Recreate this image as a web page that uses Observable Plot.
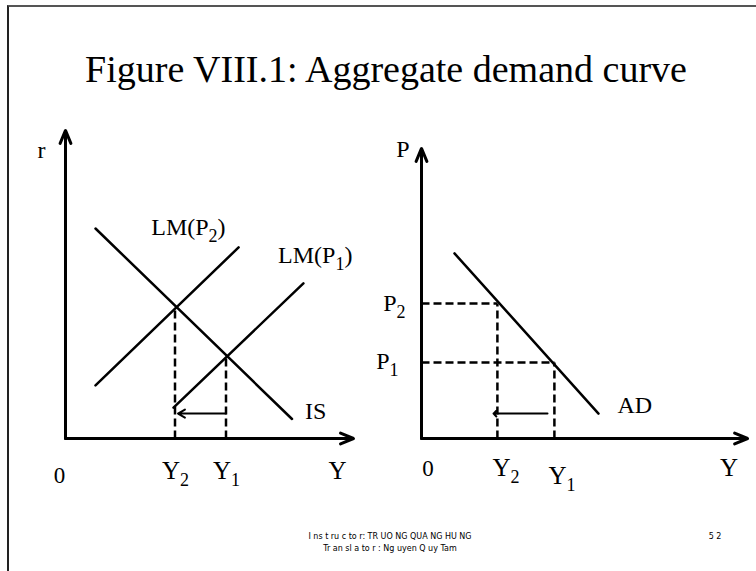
<!DOCTYPE html>
<html><head><meta charset="utf-8">
<script src="https://cdn.jsdelivr.net/npm/d3@7"></script>
<script src="https://cdn.jsdelivr.net/npm/@observablehq/plot@0.6"></script>
<style>
body{margin:0;background:#fff;}
#page{position:relative;width:756px;height:571px;overflow:hidden;background:#fff;}
#frame{position:absolute;left:7px;top:5px;width:760px;height:580px;border-top:2px solid #555;border-left:2.5px solid #222;z-index:5;pointer-events:none;}
#title{position:absolute;left:0;top:50px;width:772px;text-align:center;font-family:"Liberation Serif",serif;font-size:38px;line-height:38px;color:#000;white-space:nowrap;}
.panel{position:absolute;top:110px;}
#left{left:0;}
#right{left:380px;}
#footer{position:absolute;left:190px;top:531px;width:400px;text-align:center;font-family:"DejaVu Sans",sans-serif;font-size:8px;line-height:12px;color:#000;white-space:pre;}
#pageno{position:absolute;left:695px;top:531px;width:40px;text-align:center;font-family:"DejaVu Sans",sans-serif;font-size:8px;line-height:12px;color:#000;white-space:pre;}
</style></head><body>
<div id="page">
  <div id="frame"></div>
  <div id="title">Figure VIII.1: Aggregate demand curve</div>
  <div id="left" class="panel"></div>
  <div id="right" class="panel"></div>
  <div id="footer">I ns t ru c to r: TR UO NG QUA NG HU NG
Tr an sl a to r : Ng uyen Q uy Tam</div>
  <div id="pageno">5 2</div>
</div>
<script>
// ---------- data (left panel: IS-LM, r vs Y) ----------
const isCurve   = [{Y: 1.00, r: 7.00}, {Y: 7.55, r: 0.65}];
const lmP2Curve = [{Y: 1.00, r: 1.77}, {Y: 5.77, r: 6.37}];
const lmP1Curve = [{Y: 3.60, r: 1.03}, {Y: 7.93, r: 5.17}];
const leftEquilibria = [{Y: 3.65, r: 4.40}, {Y: 5.35, r: 2.77}]; // (Y2, r2), (Y1, r1)
const leftShift = {from: 5.35, to: 3.75, level: 0.83};
const leftAxisEnd = {Y: 9.6, r: 10.27};
const leftAxisNames = ["r", "Y"];
const leftTickLabels = ["0", "Y_2", "Y_1"];
const leftCurveLabels = ["LM(P_2)", "LM(P_1)", "IS"];

// ---------- data (right panel: AD, P vs Y) ----------
const adCurve = [{Y: 1.10, P: 6.17}, {Y: 5.90, P: 0.83}];
const rightPoints = [{Y: 2.53, P: 4.50}, {Y: 4.43, P: 2.53}]; // (Y2, P2), (Y1, P1)
const rightShift = {from: 4.20, to: 2.40, level: 0.83};
const rightAxisEnd = {Y: 10.87, P: 9.67};
const rightAxisNames = ["P", "Y"];
const rightTickLabels = ["0", "Y_2", "Y_1"];
const priceLabels = ["P_2", "P_1"];
const rightCurveLabels = ["AD"];

const FONT = "Liberation Serif";
const ink = "black";

function lbl(text, x, y, anchor, dx, dy, size = 24) {
  return Plot.text([{x, y, t: text}], {
    x: "x", y: "y", text: "t", textAnchor: anchor, lineAnchor: "bottom",
    dx, dy, fontSize: size, fontFamily: FONT, fill: ink
  });
}
function axisArrows(end, xk, yk) {
  return [
    Plot.arrow([{x1: 0, y1: 0, x2: 0, y2: end[yk]}], {x1: "x1", y1: "y1", x2: "x2", y2: "y2", stroke: ink, strokeWidth: 3, headLength: 7, headAngle: 45}),
    Plot.arrow([{x1: 0, y1: 0, x2: end[xk], y2: 0}], {x1: "x1", y1: "y1", x2: "x2", y2: "y2", stroke: ink, strokeWidth: 3, headLength: 7, headAngle: 45})
  ];
}
const dash = {stroke: ink, strokeWidth: 2.5, strokeDasharray: "8,4"};

// ---------- left panel ----------
const left = Plot.plot({
  width: 380, height: 410,
  marginLeft: 65, marginRight: 15, marginTop: 28, marginBottom: 82,
  x: {domain: [0, 10], axis: null},
  y: {domain: [0, 10], axis: null},
  style: {background: "transparent", overflow: "visible"},
  marks: [
    Plot.link(leftEquilibria.map(d => ({x1: d.Y, y1: 0, x2: d.Y, y2: d.r})), {x1: "x1", y1: "y1", x2: "x2", y2: "y2", ...dash}),
    Plot.line(isCurve, {x: "Y", y: "r", stroke: ink, strokeWidth: 2.5}),
    Plot.line(lmP2Curve, {x: "Y", y: "r", stroke: ink, strokeWidth: 2.5}),
    Plot.line(lmP1Curve, {x: "Y", y: "r", stroke: ink, strokeWidth: 2.5}),
    Plot.arrow([{x1: leftShift.from, y1: leftShift.level, x2: leftShift.to, y2: leftShift.level}], {x1: "x1", y1: "y1", x2: "x2", y2: "y2", stroke: ink, strokeWidth: 2, headLength: 6, headAngle: 60}),
    ...axisArrows(leftAxisEnd, "Y", "r"),
    lbl(leftAxisNames[0], 0, leftAxisEnd.r, "middle", -24, 28),
    lbl(leftAxisNames[1], leftAxisEnd.Y, 0, "middle", -16, 40, 25),
    lbl(leftTickLabels[0], 0, 0, "middle", -6, 44, 23),
    lbl(leftTickLabels[1], leftEquilibria[0].Y, 0, "start", -13, 40, 25),
    lbl(leftTickLabels[2], leftEquilibria[1].Y, 0, "start", -13, 40, 25),
    lbl(leftCurveLabels[0], lmP2Curve[1].Y, lmP2Curve[1].r, "end", -13, -12),
    lbl(leftCurveLabels[1], lmP1Curve[1].Y, lmP1Curve[1].r, "end", 49, -20),
    lbl(leftCurveLabels[2], isCurve[1].Y, isCurve[1].r, "start", 13, 0)
  ]
});

// ---------- right panel ----------
const right = Plot.plot({
  width: 376, height: 410,
  marginLeft: 41, marginRight: 5, marginTop: 28, marginBottom: 82,
  x: {domain: [0, 11], axis: null},
  y: {domain: [0, 10], axis: null},
  style: {background: "transparent", overflow: "visible"},
  marks: [
    Plot.link(rightPoints.map(d => ({x1: 0, y1: d.P, x2: d.Y, y2: d.P})), {x1: "x1", y1: "y1", x2: "x2", y2: "y2", ...dash}),
    Plot.link(rightPoints.map(d => ({x1: d.Y, y1: 0, x2: d.Y, y2: d.P})), {x1: "x1", y1: "y1", x2: "x2", y2: "y2", ...dash}),
    Plot.line(adCurve, {x: "Y", y: "P", stroke: ink, strokeWidth: 2.5}),
    Plot.arrow([{x1: rightShift.from, y1: rightShift.level, x2: rightShift.to, y2: rightShift.level}], {x1: "x1", y1: "y1", x2: "x2", y2: "y2", stroke: ink, strokeWidth: 2, headLength: 3, headAngle: 90}),
    ...axisArrows(rightAxisEnd, "Y", "P"),
    lbl(rightAxisNames[0], 0, rightAxisEnd.P, "middle", -18.5, 9),
    lbl(rightAxisNames[1], rightAxisEnd.Y, 0, "middle", -18.5, 37, 25),
    lbl(rightTickLabels[0], 0, 0, "middle", 6.5, 37, 23),
    lbl(rightTickLabels[1], rightPoints[0].Y, 0, "start", -5, 37, 25),
    lbl(rightTickLabels[2], rightPoints[1].Y, 0, "start", -6, 45, 25),
    lbl(priceLabels[0], 0, rightPoints[0].P, "end", -16, 7),
    lbl(priceLabels[1], 0, rightPoints[1].P, "end", -23, 6),
    lbl(rightCurveLabels[0], adCurve[1].Y, adCurve[1].P, "start", 19, -1)
  ]
});

// turn "X_2" into X with a lowered subscript
function subscripts(svg) {
  const ns = "http://www.w3.org/2000/svg";
  svg.querySelectorAll("text").forEach(t => {
    const s = t.textContent;
    const m = s.match(/^(.*)_(\d)(.*)$/);
    if (!m) return;
    const size = parseFloat(t.getAttribute("font-size")) || 24;
    t.textContent = "";
    const a = document.createElementNS(ns, "tspan"); a.textContent = m[1]; t.appendChild(a);
    const b = document.createElementNS(ns, "tspan");
    b.setAttribute("dy", Math.round(size * 0.3)); b.setAttribute("font-size", Math.round(size * 0.75));
    b.textContent = m[2]; t.appendChild(b);
    if (m[3]) {
      const c = document.createElementNS(ns, "tspan");
      c.setAttribute("dy", -Math.round(size * 0.3)); c.textContent = m[3]; t.appendChild(c);
    }
  });
}
subscripts(left); subscripts(right);
document.getElementById("left").appendChild(left);
document.getElementById("right").appendChild(right);
</script>
</body></html>
